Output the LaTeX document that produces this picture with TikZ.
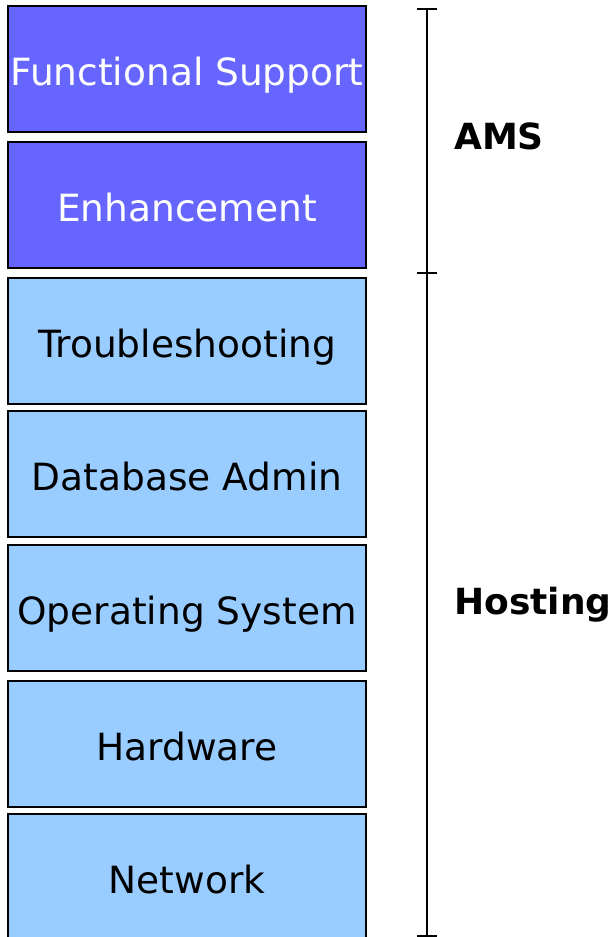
\documentclass[tikz,border=0pt]{standalone}
\usepackage{fontspec}
\setmainfont{DejaVu Sans}
\usepackage{tikz}
\usetikzlibrary{positioning}
\definecolor{amsblue}{RGB}{102,102,255}
\definecolor{hostblue}{RGB}{153,204,255}

\begin{document}
\begin{tikzpicture}[x=1pt, y=-1pt,
        layer/.style={rectangle, draw=black, line width=2pt, outer sep=0pt, inner sep=0pt,
            minimum width=358pt, minimum height=126pt, text height=33pt, text depth=0pt,
            font=\fontsize{37.5}{40}\selectfont},
        ams/.style={layer, fill=amsblue, text=white},
        host/.style={layer, fill=hostblue, text=black},
        bar/.style={line width=1.8pt, black},
        group/.style={inner sep=0pt, anchor=west, font=\fontsize{36}{40}\selectfont\bfseries}
    ]
        \useasboundingbox (0,0) rectangle (615,937);

        \node[ams, anchor=north west] (func) at (8,6) {Functional Support};
        \node[ams, below=10pt of func] (enh) {Enhancement};

        \node[host, below=10pt of enh] (trouble) {Troubleshooting};
        \node[host, below=7pt of trouble] (dba) {Database Admin};
        \node[host, below=8pt of dba] (os) {Operating System};
        \node[host, below=10pt of os] (hw) {Hardware};
        \node[host, below=7pt of hw] (net) {Network};

        % bracket on the right
        \coordinate (amstop) at (427,9);
        \coordinate (split) at (427,273);
        \coordinate (hostbot) at (427,936);
        \draw[bar] (amstop) -- (hostbot);
        \foreach \c in {amstop, split, hostbot}
            \draw[bar] ([xshift=-10pt]\c) -- ([xshift=10pt]\c);

        \node[group] (amslbl) at (454,136) {AMS};
        \node[group] (hostlbl) at (454,605) {Hosting};
    \end{tikzpicture}
\end{document}
